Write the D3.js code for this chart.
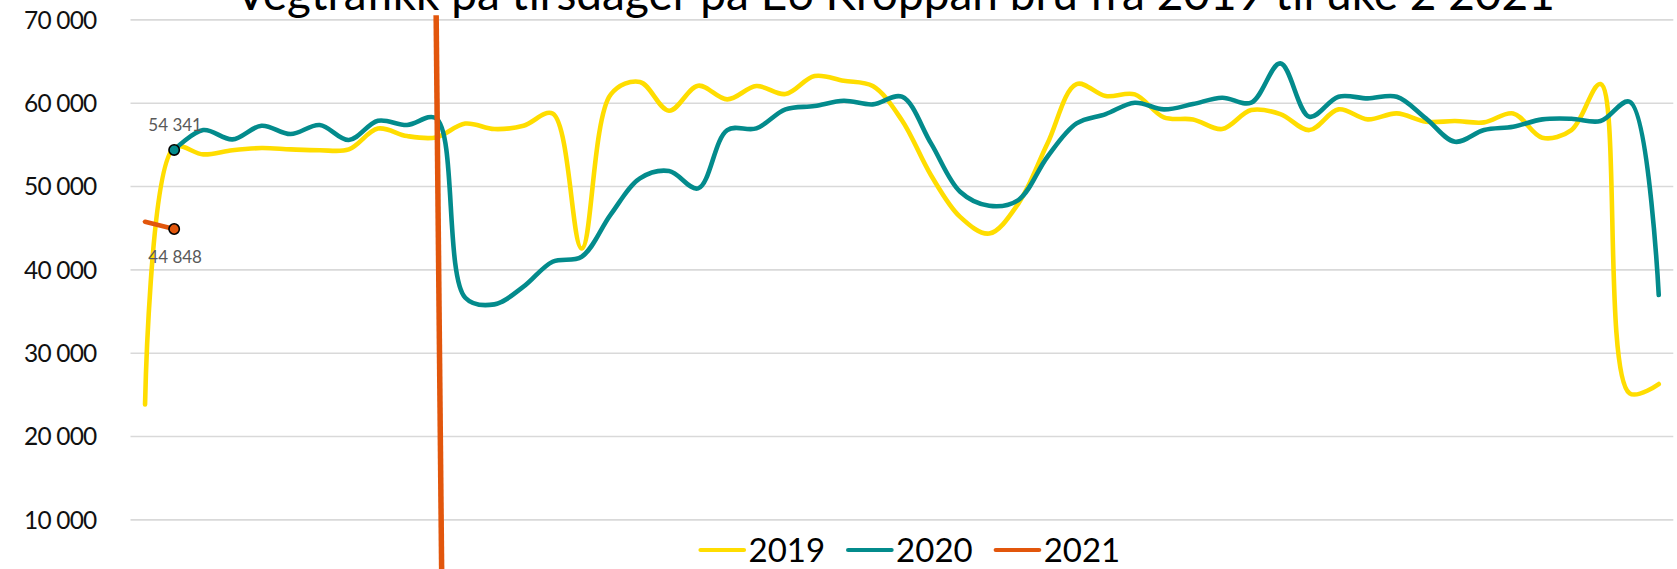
<!DOCTYPE html>
<html lang="no">
<head>
<meta charset="utf-8">
<title>Vegtrafikk på tirsdager på E6 Kroppan bru</title>
<script src="https://cdn.jsdelivr.net/npm/d3@7"></script>
<style>
  html, body { margin: 0; padding: 0; background: #fff; }
  svg { display: block; font-family: Lato, "Open Sans", sans-serif; }
</style>
</head>
<body>
<svg id="chart" width="1677" height="569"></svg>
<script>
// Week numbers (one Tuesday per week)
const weeks = ["1","2","3","4","5","6","7","8","9","10","11","12","13","14","15","16","17","18",
  "19","20","21","22","23","24","25","26","27","28","29","30","31","32","33","34","35","36",
  "37","38","39","40","41","42","43","44","45","46","47","48","49","50","51","52","53"];

// Vehicles per Tuesday
const traffic2019 = [23800, 54600, 53800, 54300, 54560, 54400, 54300, 54400, 56900, 56000,
  55840, 57500, 56840, 57240, 58700, 42500, 61000, 62500, 59040, 62040,
  60400, 62000, 61040, 63200, 62640, 62000, 57900, 51300, 46300, 44300,
  47900, 55100, 62240, 60800, 61000, 58240, 58000, 56840, 59120, 58640,
  56720, 59200, 58000, 58720, 57720, 57800, 57640, 58720, 55800, 56720,
  62240, 25120, 26240];

const traffic2020 = [null, 54341, 56720, 55600, 57240, 56240, 57320, 55520, 57840, 57320,
  58120, 36600, 35800, 37920, 40920, 41520, 46600, 50920, 51800, 49720,
  56720, 56920, 59200, 59600, 60240, 59800, 60720, 55120, 49320, 47640,
  48320, 53520, 57520, 58640, 60000, 59200, 59840, 60600, 60000, 64720,
  58320, 60720, 60520, 60720, 58120, 55320, 56720, 57120, 58000, 58080,
  57800, 60120, 36920];

const traffic2021 = [45720, 44848];

const seriesNames = ["2019", "2020", "2021"];
const seriesColors = ["#FFDD00", "#038B8C", "#E2560C"];

const yTicks = [10000, 20000, 30000, 40000, 50000, 60000, 70000];

// Week when the shutdown started (vertical marker)
const shutdownWeek = "11";

const titleText = "Vegtrafikk på tirsdager på E6 Kroppan bru fra 2019 til uke 2 2021";

// ---------------------------------------------------------------
const svg = d3.select("#chart");
const plot = { left: 130.5, right: 1673.3, top: 19.4, bottom: 602.7 };

const nb = d3.formatLocale({ decimal: ",", thousands: "\u00a0", grouping: [3], currency: ["kr ", ""] });
const fmt = nb.format(",d");

const x = d3.scalePoint().domain(weeks).range([plot.left, plot.right]).padding(0.5);
const y = d3.scaleLinear().domain([0, 70000]).range([plot.bottom, plot.top]);

// Horizontal gridlines and value labels
const yAxis = d3.axisLeft(y)
  .tickValues(yTicks)
  .tickSize(-(plot.right - plot.left))
  .tickPadding(34)
  .tickFormat(fmt);

const gy = svg.append("g")
  .attr("transform", `translate(${plot.left},0)`)
  .call(yAxis)
  .attr("font-family", null)
  .attr("font-size", null);
gy.select(".domain").remove();
gy.selectAll(".tick line").attr("stroke", "#d9d9d9").attr("stroke-width", 1.6);
gy.selectAll(".tick text")
  .attr("fill", "#111")
  .style("font-family", "Lato, 'Open Sans', sans-serif")
  .style("font-size", "24.5px")
  .style("letter-spacing", "-0.8px")
  .attr("dy", "0.36em");

// Title (centred over the plot)
const title = svg.append("text")
  .attr("x", 895)
  .attr("y", 10)
  .attr("text-anchor", "middle")
  .attr("fill", "#000")
  .style("font-size", "40px")
  .text(titleText);
const tLen = title.node().getComputedTextLength();
title.style("font-size", (40 * 1320 / tLen) + "px");

// Series lines (smoothed)
const series = [traffic2019, traffic2020, traffic2021];
const line = d3.line()
  .defined(d => d.v != null)
  .x(d => x(d.w))
  .y(d => y(d.v))
  .curve(d3.curveCatmullRom.alpha(0.5));

series.forEach((vals, k) => {
  const pts = vals.map((v, i) => ({ w: weeks[i], v }));
  svg.append("path")
    .datum(pts)
    .attr("fill", "none")
    .attr("stroke", seriesColors[k])
    .attr("stroke-width", 4.6)
    .attr("stroke-linecap", "round")
    .attr("stroke-linejoin", "round")
    .attr("d", line);
});

// Shutdown marker: slightly leaning vertical stroke at week 11
const step = x.step();
svg.append("line")
  .attr("x1", x(shutdownWeek))
  .attr("y1", y(70500))
  .attr("x2", x(shutdownWeek) + 0.2 * step)
  .attr("y2", y(0))
  .attr("stroke", seriesColors[2])
  .attr("stroke-width", 5.5);

// Labelled points: week 2 for 2020 and 2021
const labelled = [
  { w: weeks[1], v: traffic2020[1], color: seriesColors[1], above: true },
  { w: weeks[1], v: traffic2021[1], color: seriesColors[2], above: false }
];
labelled.forEach(p => {
  svg.append("circle")
    .attr("cx", x(p.w))
    .attr("cy", y(p.v))
    .attr("r", 5.2)
    .attr("fill", p.color)
    .attr("stroke", "#000")
    .attr("stroke-width", 1.6);
  svg.append("text")
    .attr("x", x(p.w) + 1)
    .attr("y", y(p.v) + (p.above ? -19 : 34))
    .attr("text-anchor", "middle")
    .attr("fill", "#595959")
    .style("font-size", "17px")
    .text(fmt(p.v));
});

// Legend
const legend = svg.append("g").attr("transform", "translate(700.5,550)");
const items = legend.selectAll("g")
  .data(seriesNames)
  .join("g")
  .attr("transform", (d, i) => `translate(${i * 147.6},0)`);
items.append("line")
  .attr("x1", 0).attr("x2", 43.5)
  .attr("y1", 0).attr("y2", 0)
  .attr("stroke", (d, i) => seriesColors[i])
  .attr("stroke-width", 4.2)
  .attr("stroke-linecap", "round");
items.append("text")
  .attr("x", 48)
  .attr("y", 12)
  .attr("fill", "#000")
  .style("font-size", "33px")
  .text(d => d);
</script>
</body>
</html>
